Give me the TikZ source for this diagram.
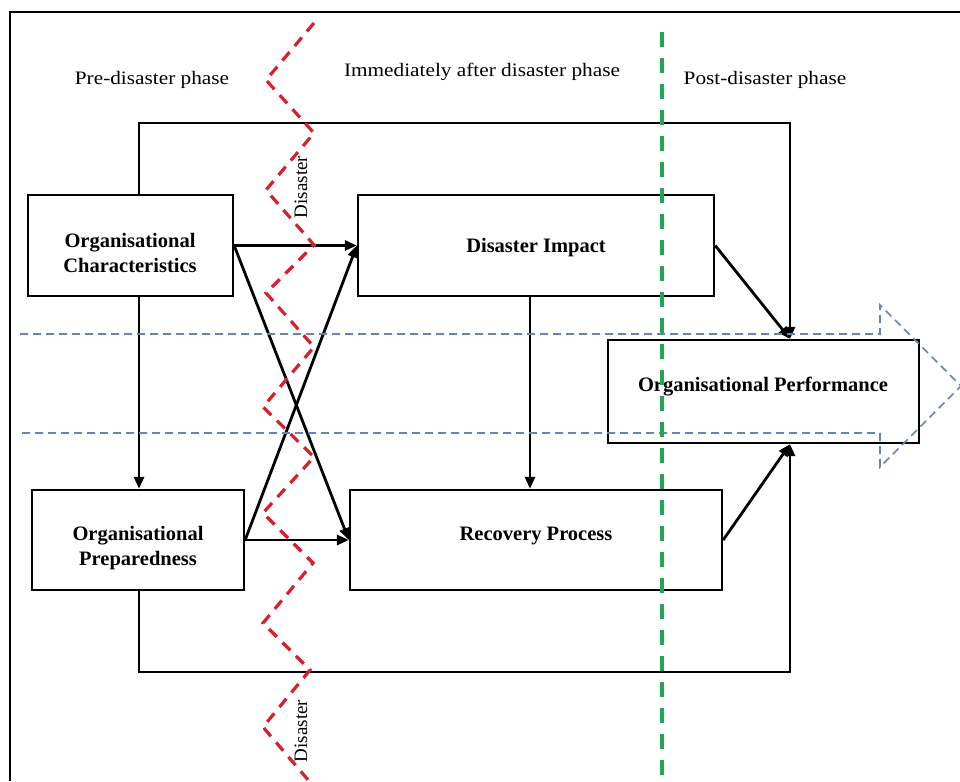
\documentclass[tikz,border=0pt]{standalone}
\usepackage{fontspec}
\setmainfont{Liberation Serif}
\usetikzlibrary{arrows.meta,calc}

\definecolor{zigred}{RGB}{214,32,44}
\definecolor{phasegreen}{RGB}{34,166,84}
\definecolor{flowblue}{RGB}{104,132,176}

\begin{document}
\begin{tikzpicture}[x=1pt,y=-1pt,
  box/.style={draw,line width=2.3pt,inner sep=0pt,minimum width=#1},
  boxtext/.style={align=center,inner sep=0pt,font=\fontsize{20.5}{25}\selectfont\bfseries},
  phase/.style={inner sep=0pt,font=\fontsize{19}{22}\selectfont},
  conn/.style={line width=2.8pt,-{Triangle[length=12pt,width=10pt]}},
  zig/.style={draw=zigred,line width=3.2pt,dash pattern=on 11pt off 8pt},
  greenline/.style={draw=phasegreen,line width=3.4pt,dash pattern=on 15pt off 11pt},
  blueflow/.style={draw=flowblue,line width=1.6pt,dash pattern=on 8pt off 5pt},
  rotlabel/.style={inner sep=0pt,rotate=90,font=\fontsize{19}{22}\selectfont}
]
\useasboundingbox (0,0) rectangle (960,781);
\fill[white] (0,0) rectangle (960,781);

% outer frame (left and top edges)
\draw[line width=2pt] (10,781) -- (10,12) -- (960,12);

% phase headings
\node[phase] (pre)  at (152,80) {\scalebox{1.12}[1]{Pre-disaster phase}};
\node[phase] (imm)  at (482,72) {\scalebox{1.12}[1]{Immediately after disaster phase}};
\node[phase] (post) at (765,80) {\scalebox{1.12}[1]{Post-disaster phase}};

% boxes
\node[box=205pt,minimum height=101pt] (oc)  at (130.5,245.5) {};
\node[box=212pt,minimum height=100pt] (opr) at (138,540) {};
\node[box=356pt,minimum height=101pt] (di)  at (536,245.5) {};
\node[box=372pt,minimum height=100pt] (rp)  at (536,540) {};
\node[box=311pt,minimum height=103pt] (op)  at (763.5,391.5) {};

\node[boxtext] (oct)  at (130,253) {Organisational\\Characteristics};
\node[boxtext] (oprt) at (138,548) {Organisational\\Preparedness};
\node[boxtext] (dit)  at (536,248) {Disaster Impact};
\node[boxtext] (rpt)  at (536,536) {Recovery Process};
\node[boxtext] (opt)  at (763,387) {Organisational Performance};

% loop and connector coordinates
\coordinate (lx) at (139,0);
\coordinate (rx) at (790,0);
\coordinate (mx) at (530,0);
\coordinate (topy) at (0,123);
\coordinate (boty) at (0,672);

% connectors
\draw[conn] (oc.south -| lx) -- (opr.north -| lx);
\draw[conn] (oc.east) -- (di.west);
\draw[conn] (oc.east) -- (rp.west);
\draw[conn] (opr.east) -- (rp.west);
\draw[conn] (opr.east) -- (di.west);
\draw[conn] (di.south -| mx) -- (rp.north -| mx);
\draw[conn] (di.east) -- (op.north -| rx);
\draw[conn] (rp.east) -- (op.south -| rx);
\draw[conn] (oc.north -| lx) -- (topy -| lx) -- (topy -| rx) -- (op.north -| rx);
\draw[conn] (opr.south -| lx) -- (boty -| lx) -- (boty -| rx) -- (op.south -| rx);

% broad dashed flow arrow
\draw[blueflow] (20,334) -- (880,334) -- (880,305) -- (961,386) -- (880,467) -- (880,433) -- (20,433);

% post-disaster boundary
\draw[greenline] (662,32) -- (662,781);

% disaster zigzag
\draw[zig] (314,23) -- (266,80) -- (314,133) -- (266,190) -- (314,245) -- (266,293)
  -- (314,347) -- (263,407) -- (314,457) -- (263,513) -- (313,563) -- (263,623)
  -- (310,670) -- (263,727) -- (309,781);

\node[rotlabel] (dis1) at (301,187) {Disaster};
\node[rotlabel] (dis2) at (301,731) {Disaster};
\end{tikzpicture}
\end{document}
